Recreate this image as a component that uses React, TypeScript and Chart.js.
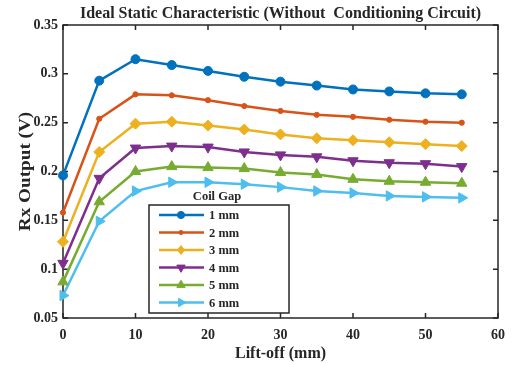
import React, { useEffect, useRef } from "react";
import { Chart, registerables } from "chart.js";

Chart.register(...registerables);

const liftOff = [0, 5, 10, 15, 20, 25, 30, 35, 40, 45, 50, 55];
const gap1 = [0.196, 0.293, 0.315, 0.309, 0.303, 0.297, 0.292, 0.288, 0.284, 0.282, 0.280, 0.279];
const gap2 = [0.158, 0.254, 0.279, 0.278, 0.273, 0.267, 0.262, 0.258, 0.256, 0.253, 0.251, 0.250];
const gap3 = [0.128, 0.220, 0.249, 0.251, 0.247, 0.243, 0.238, 0.234, 0.232, 0.230, 0.228, 0.226];
const gap4 = [0.106, 0.193, 0.224, 0.226, 0.225, 0.220, 0.217, 0.215, 0.211, 0.209, 0.208, 0.205];
const gap5 = [0.087, 0.169, 0.200, 0.205, 0.204, 0.203, 0.199, 0.197, 0.192, 0.190, 0.189, 0.188];
const gap6 = [0.073, 0.149, 0.180, 0.189, 0.189, 0.187, 0.184, 0.180, 0.178, 0.175, 0.174, 0.173];
const seriesLabels = ["1 mm", "2 mm", "3 mm", "4 mm", "5 mm", "6 mm"];
const seriesValues = [gap1, gap2, gap3, gap4, gap5, gap6];
const colors = ["#0072BD", "#D95319", "#EDB120", "#7E2F8E", "#77AC30", "#4DBEEE"];
const markers = [
  { style: "circle", r: 4.5, rot: 0 },
  { style: "circle", r: 2.6, rot: 0 },
  { style: "rectRot", r: 5.5, rot: 0 },
  { style: "triangle", r: 6, rot: 180 },
  { style: "triangle", r: 6, rot: 0 },
  { style: "triangle", r: 6, rot: 90 },
];

const titleText = "Ideal Static Characteristic (Without  Conditioning Circuit)";
const xTitle = "Lift-off (mm)";
const yTitle = "Rx Output (V)";
const legendTitle = "Coil Gap";

const FONT = "'Liberation Serif', 'Times New Roman', serif";
const INK = "#262626";

function drawMarker(ctx: CanvasRenderingContext2D, style: string, x: number, y: number, r: number, rotDeg: number, color: string) {
  ctx.save();
  ctx.fillStyle = color;
  ctx.strokeStyle = color;
  ctx.lineWidth = 1;
  ctx.beginPath();
  if (style === "circle") {
    ctx.arc(x, y, r, 0, Math.PI * 2);
  } else if (style === "rectRot") {
    ctx.moveTo(x, y - r);
    ctx.lineTo(x + r * 0.8, y);
    ctx.lineTo(x, y + r);
    ctx.lineTo(x - r * 0.8, y);
    ctx.closePath();
  } else {
    let rad = (rotDeg * Math.PI) / 180;
    ctx.moveTo(x + Math.sin(rad) * r, y - Math.cos(rad) * r);
    rad += (2 * Math.PI) / 3;
    ctx.lineTo(x + Math.sin(rad) * r, y - Math.cos(rad) * r);
    rad += (2 * Math.PI) / 3;
    ctx.lineTo(x + Math.sin(rad) * r, y - Math.cos(rad) * r);
    ctx.closePath();
  }
  ctx.fill();
  ctx.stroke();
  ctx.restore();
}

const framePlugin = {
  id: "frame",
  beforeDatasetsDraw(chart: any) {
    const { ctx, chartArea, scales } = chart;
    const { left, right, top, bottom } = chartArea;
    ctx.save();
    ctx.strokeStyle = INK;
    ctx.lineWidth = 1.5;
    ctx.strokeRect(left, top, right - left, bottom - top);
    ctx.beginPath();
    scales.x.ticks.forEach((t: any) => {
      const px = scales.x.getPixelForValue(t.value);
      ctx.moveTo(px, bottom);
      ctx.lineTo(px, bottom - 5);
      ctx.moveTo(px, top);
      ctx.lineTo(px, top + 5);
    });
    scales.y.ticks.forEach((t: any) => {
      const py = scales.y.getPixelForValue(t.value);
      ctx.moveTo(left, py);
      ctx.lineTo(left + 5, py);
      ctx.moveTo(right, py);
      ctx.lineTo(right - 5, py);
    });
    ctx.stroke();
    ctx.restore();
  },
  afterDraw(chart: any) {
    const { ctx, chartArea } = chart;
    const { left, right, top, bottom } = chartArea;
    const cx = (left + right) / 2;
    ctx.save();
    ctx.fillStyle = INK;
    ctx.textAlign = "center";
    ctx.textBaseline = "alphabetic";
    ctx.font = `bold 16px ${FONT}`;
    ctx.fillText(titleText, cx, 18);
    ctx.font = `bold 16px ${FONT}`;
    ctx.fillText(xTitle, cx, 358);
    ctx.save();
    ctx.translate(30, (top + bottom) / 2);
    ctx.rotate(-Math.PI / 2);
    ctx.scale(1.2, 1);
    ctx.fillText(yTitle, 0, 0);
    ctx.restore();

    // legend
    const bx = left + 86;
    const by = top + 180;
    const bw = 140;
    const bh = 108;
    ctx.fillStyle = "#ffffff";
    ctx.fillRect(bx, by, bw, bh);
    ctx.strokeStyle = INK;
    ctx.lineWidth = 1.5;
    ctx.strokeRect(bx, by, bw, bh);
    ctx.fillStyle = INK;
    ctx.font = `bold 12.5px ${FONT}`;
    ctx.textAlign = "center";
    ctx.fillText(legendTitle, bx + 68, by - 5);
    chart.data.datasets.forEach((ds: any, i: number) => {
      const ry = by + 10 + i * 17.5;
      ctx.strokeStyle = ds.borderColor;
      ctx.lineWidth = 2.5;
      ctx.beginPath();
      ctx.moveTo(bx + 10, ry);
      ctx.lineTo(bx + 55, ry);
      ctx.stroke();
      const m = markers[i];
      drawMarker(ctx, m.style, bx + 32, ry, m.r * 0.8, m.rot, ds.borderColor);
      ctx.fillStyle = INK;
      ctx.textAlign = "left";
      ctx.textBaseline = "middle";
      ctx.font = `bold 12.5px ${FONT}`;
      ctx.fillText(ds.label, bx + 60, ry + 1);
    });
    ctx.restore();
  },
};

export default function App() {
  const ref = useRef<HTMLCanvasElement | null>(null);
  useEffect(() => {
    if (!ref.current) return;
    const datasets = seriesValues.map((vals, i) => ({
      label: seriesLabels[i],
      data: liftOff.map((x, j) => ({ x, y: vals[j] })),
      borderColor: colors[i],
      backgroundColor: colors[i],
      pointBackgroundColor: colors[i],
      pointBorderColor: colors[i],
      borderWidth: 2.5,
      pointStyle: markers[i].style,
      pointRadius: markers[i].r,
      pointRotation: markers[i].rot,
      pointBorderWidth: 1,
      tension: 0,
      clip: false as any,
    }));
    const chart = new Chart(ref.current, {
      type: "line",
      data: { datasets },
      options: {
        animation: false,
        responsive: false,
        layout: { padding: { top: 25, right: 20, left: 0, bottom: 0 } },
        plugins: { legend: { display: false }, tooltip: { enabled: false }, title: { display: false } },
        scales: {
          x: {
            type: "linear",
            min: 0,
            max: 60,
            grid: { display: false, drawTicks: false },
            border: { display: false },
            ticks: { stepSize: 10, padding: 9, color: INK, font: { family: FONT, size: 14, weight: "bold" } },
            afterFit: (s: any) => { s.height = 47; },
          },
          y: {
            type: "linear",
            min: 0.05,
            max: 0.35,
            grid: { display: false, drawTicks: false },
            border: { display: false },
            ticks: {
              stepSize: 0.05,
              padding: 5,
              color: INK,
              font: { family: FONT, size: 14, weight: "bold" },
              callback: (v: any) => String(Number(Number(v).toFixed(2))),
            },
            afterFit: (s: any) => { s.width = 63; },
          },
        },
      } as any,
      plugins: [framePlugin],
    });
    return () => chart.destroy();
  }, []);
  return (
    <div style={{ position: "absolute", left: 0, top: 0, width: 518, height: 365, background: "#fff" }}>
      <canvas ref={ref} width={518} height={365} />
    </div>
  );
}
